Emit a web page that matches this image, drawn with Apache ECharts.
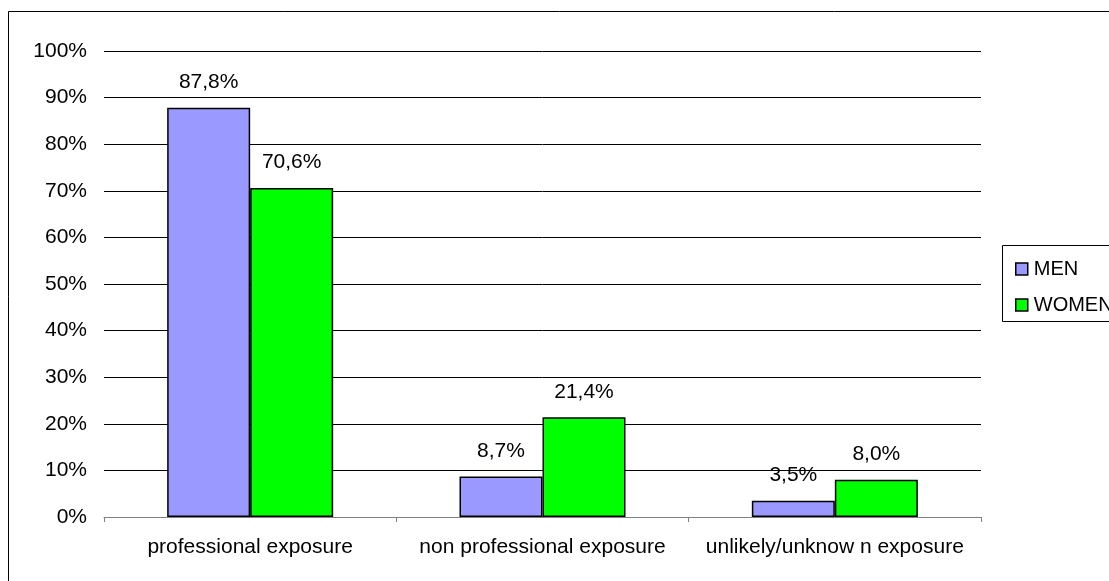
<!DOCTYPE html>
<html>
<head>
<meta charset="utf-8">
<script src="https://cdn.jsdelivr.net/npm/echarts@6/dist/echarts.min.js"></script>
<style>html,body{margin:0;padding:0;background:#fff}#c{width:1109px;height:581px}</style>
</head>
<body>
<div id="c"></div>
<script>
var categories = ['professional exposure', 'non professional exposure', 'unlikely/unknow n exposure'];
var menValues = [87.8, 8.7, 3.5];
var womenValues = [70.6, 21.4, 8.0];
var seriesNames = ['MEN', 'WOMEN'];

var chart = echarts.init(document.getElementById('c'));
var font = '"Liberation Sans", Arial, sans-serif';
function fmt(p) { return p.value.toFixed(1).replace('.', ',') + '%'; }
var labelCfg = { show: true, position: 'top', distance: 15, formatter: fmt, color: '#000', fontSize: 21, fontFamily: font };
chart.setOption({
  animation: false,
  backgroundColor: '#fff',
  grid: { left: 104, right: 128, top: 51, bottom: 64 },
  graphic: [
    { type: 'rect', silent: true, z: -10, shape: { x: 8.5, y: 11.5, width: 1200, height: 700 }, style: { fill: 'none', stroke: '#000', lineWidth: 1 } },
    { type: 'rect', silent: true, z: -10, shape: { x: 1002.5, y: 245.5, width: 200, height: 76 }, style: { fill: '#fff', stroke: '#000', lineWidth: 1 } }
  ],
  legend: {
    orient: 'vertical',
    left: 1010,
    top: 254,
    itemWidth: 12,
    itemHeight: 12,
    itemGap: 16,
    icon: 'rect',
    itemStyle: { borderColor: '#000', borderWidth: 1.5 },
    textStyle: { fontSize: 20, fontFamily: font, color: '#000', padding: [0, 0, 0, 1] },
    data: seriesNames
  },
  xAxis: {
    type: 'category',
    data: categories,
    axisLine: { lineStyle: { color: '#808080', width: 1 } },
    axisTick: { show: true, length: 5, lineStyle: { color: '#808080' } },
    axisLabel: { interval: 0, hideOverlap: false, fontSize: 21, fontFamily: font, color: '#000', margin: 20 }
  },
  yAxis: {
    type: 'value',
    min: 0, max: 100, interval: 10,
    axisLine: { show: false },
    axisTick: { show: false },
    splitLine: { lineStyle: { color: '#000', width: 1 } },
    axisLabel: { formatter: '{value}%', fontSize: 21, fontFamily: font, color: '#000', margin: 17 }
  },
  series: [
    { name: seriesNames[0], type: 'bar', data: menValues, barWidth: 83, barGap: '0%',
      itemStyle: { color: '#9999ff', borderColor: '#000', borderWidth: 1.5 }, label: labelCfg },
    { name: seriesNames[1], type: 'bar', data: womenValues, barWidth: 83,
      itemStyle: { color: '#00ff00', borderColor: '#000', borderWidth: 1.5 }, label: labelCfg }
  ]
});
</script>
</body>
</html>
